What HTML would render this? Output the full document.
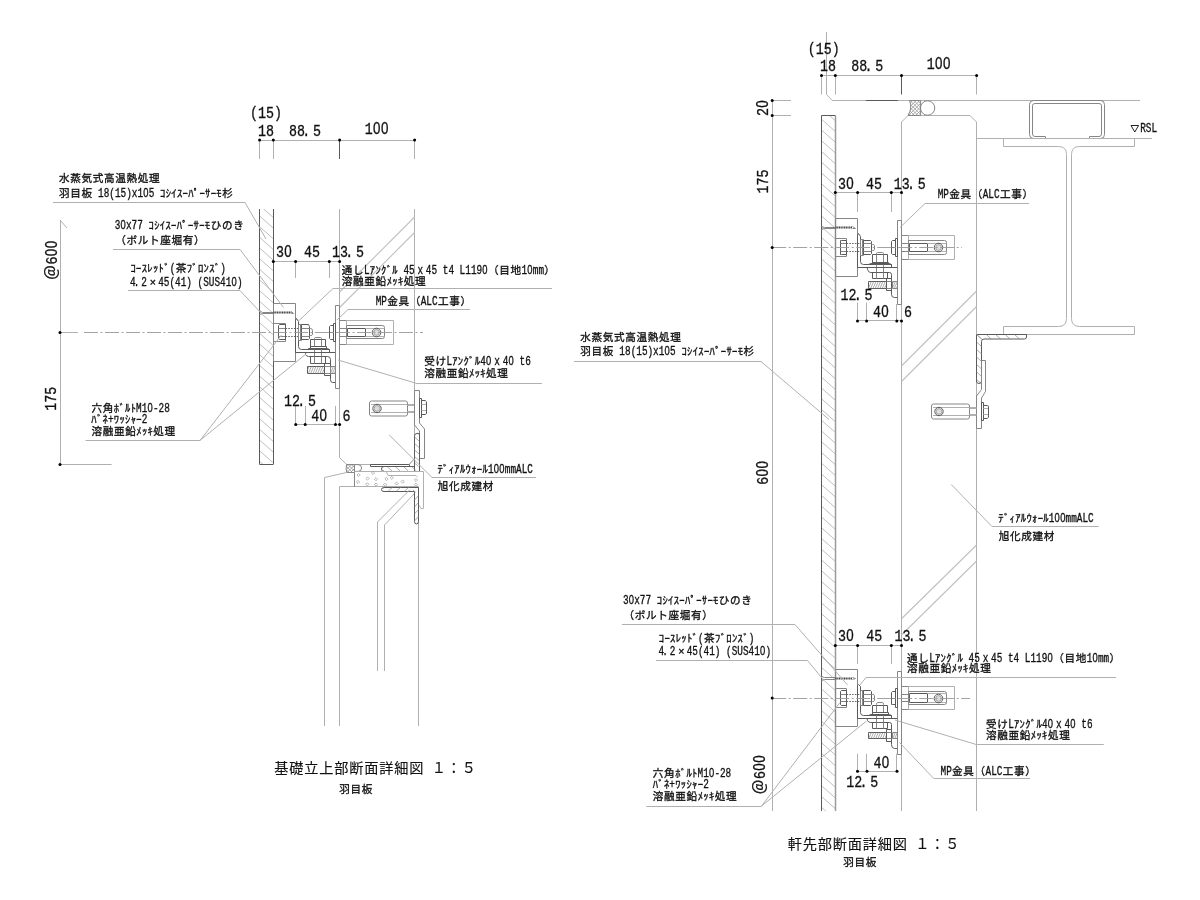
<!DOCTYPE html>
<html lang="ja"><head><meta charset="utf-8"><title>羽目板 断面詳細図</title><style>
html,body{margin:0;padding:0;background:#fff;overflow:hidden}
svg{display:block;filter:grayscale(1);font-family:"Liberation Mono",monospace}
path,circle,rect{fill:none;stroke-width:1;stroke:#9a9a9a}
.l{stroke:#b0b0b0}
.m{stroke:#868686}
.m2{stroke:#9a9a9a;stroke-width:1.5}
.d{stroke:#5a5a5a}
.h{stroke:#b8b8b8;stroke-width:.9}
.h2{stroke:#c0c0c0;stroke-width:1.1}
.h3{stroke:#999;stroke-width:.7}
.hd{stroke:#8a8a8a;stroke-width:.7}
.hf{stroke:#777;stroke-width:.6;fill:#ddd}
.thr{stroke:#444;stroke-width:2.2;stroke-dasharray:1.2 .5}
.ds{stroke:#666;stroke-dasharray:1.6 1.2}
.cl{stroke:#999;stroke-width:.9;stroke-dasharray:14 2.5 2 2.5}
.k{fill:#000;stroke:none}
.tk{stroke:#222;stroke-width:1}
.t text{fill:#111;stroke:#111;stroke-width:.32px}
.ti text{stroke-width:.12px}
.z{font-family:"Liberation Sans",sans-serif}
.j{font-family:"Liberation Sans","Noto Sans CJK JP",sans-serif;font-size:10.6px}
.ja{font-family:"Liberation Sans","Noto Sans CJK JP",sans-serif;font-size:15px}
.jt{font-family:"Liberation Sans","Noto Sans CJK JP",sans-serif;font-size:14.2px}
</style></head>
<body>
<svg width="1200" height="900" viewBox="0 0 1200 900">
<path class="l" d="M259.6 140.5L414.6 140.5"/>
<path class="l" d="M259.5 140L259.5 159"/>
<path class="l" d="M273.5 140L273.5 159"/>
<path class="l" d="M414.5 140L414.5 159"/>
<path class="d" d="M339.5 140L339.5 159"/>
<path class="h" d="M263.75 209L273.3 217.5M259.6 215.97L273.3 228.17M259.6 226.64L273.3 238.84M259.6 237.31L273.3 249.51M259.6 247.98L273.3 260.18M259.6 258.65L273.3 270.85M259.6 269.32L273.3 281.52M259.6 279.99L273.3 292.19M259.6 290.66L273.3 302.86M259.6 301.33L273.3 313.53M259.6 312L273.3 324.2M259.6 322.67L273.3 334.87M259.6 333.34L273.3 345.54M259.6 344.01L273.3 356.21M259.6 354.68L273.3 366.88M259.6 365.35L273.3 377.55M259.6 376.02L273.3 388.22M259.6 386.69L273.3 398.89M259.6 397.36L273.3 409.56M259.6 408.03L273.3 420.23M259.6 418.7L273.3 430.9M259.6 429.37L273.3 441.57M259.6 440.04L273.3 452.24M259.6 450.71L273.3 462.91M259.6 461.38L262.99 464.4"/>
<path class="d" d="M259.5 209L259.5 464.4"/>
<path class="d" d="M273.5 209L273.5 464.4"/>
<path class="d" d="M259.6 464.5L273.3 464.5"/>
<path class="l" d="M339.5 209L339.5 457.5L346.6 464.5L409 464.5L414.6 458.6"/>
<path class="l" d="M414.5 209L414.5 471"/>
<path class="h2" d="M414.6 217L339.6 292"/>
<path class="h2" d="M414.6 232.5L339.6 307.5"/>
<path class="l" d="M60 332.5L78 332.5"/>
<path class="m" d="M273.5 303.5L295.5 303.5L295.5 361.5L273.5 361.5Z"/>
<path class="d" d="M259.5 310.5L259.5 314.5"/>
<path class="m" d="M259.5 310.5L262.5 312.5L273.5 312.5"/>
<path class="m" d="M259.5 314.5L262.5 313.5L273.5 313.5"/>
<path class="thr" d="M273.5 312.5L291.5 312.5"/>
<path class="m" d="M291.5 311.5L293.5 313.5L291.5 313.5"/>
<path class="m" d="M273.5 323.5L285.5 323.5L285.5 341.5L273.5 341.5"/>
<path class="d" d="M285.5 324.5L279.5 324.5L278.5 325.5L278.5 338.5L279.5 339.5L285.5 339.5"/>
<path class="m" d="M278.5 328.5L285.5 328.5"/>
<path class="m" d="M278.5 336.5L285.5 336.5"/>
<path class="d" d="M285.5 324.5L285.5 339.5"/>
<path class="ds" d="M285.5 328.5L298.5 328.5M285.5 336.5L298.5 336.5"/>
<path class="d" d="M295.5 320.5L295.5 352.5L329.5 352.5L329.5 349.5L301.5 349.5Q298.5 349.5 298.5 346.5L298.5 321.5L296.5 318.5Z"/>
<path class="m" d="M298.5 324.5L300.5 324.5L300.5 340.5L298.5 340.5Z"/>
<path class="m" d="M300.5 324.5L301.5 324.5L301.5 340.5L300.5 340.5Z"/>
<path class="d" d="M301.5 324.5L308.5 324.5L309.5 326.5L309.5 338.5L308.5 339.5L301.5 339.5Z"/>
<path class="m" d="M301.5 328.5L309.5 328.5"/>
<path class="m" d="M301.5 336.5L309.5 336.5"/>
<path class="m" d="M309.5 328.5L310.5 328.5Q312.5 328.5 312.5 330.5L312.5 334.5Q312.5 335.5 310.5 335.5L309.5 335.5"/>
<path class="m" d="M314.5 339.5L314.5 338.5Q314.5 337.5 315.5 337.5L320.5 337.5Q321.5 337.5 321.5 338.5L321.5 339.5"/>
<path class="d" d="M310.5 339.5L325.5 339.5L325.5 346.5L310.5 346.5Z"/>
<path class="m" d="M314.5 339.5L314.5 346.5"/>
<path class="m" d="M321.5 339.5L321.5 346.5"/>
<path class="d" d="M310.5 346.5L326.5 346.5L326.5 348.5L310.5 348.5Z"/>
<path class="d" d="M308.5 348.5L327.5 348.5L329.5 349.5L307.5 349.5Z"/>
<path class="m" d="M314.5 349.5L314.5 356.5"/>
<path class="m" d="M321.5 349.5L321.5 356.5"/>
<path class="d" d="M306.5 352.5L335.5 352.5L335.5 382.5L332.5 382.5Q330.5 382.5 330.5 379.5L330.5 359.5Q330.5 356.5 327.5 356.5L308.5 356.5Q306.5 356.5 305.5 354.5Q305.5 352.5 306.5 352.5Z"/>
<path class="d" d="M310.5 356.5L325.5 356.5L325.5 363.5L310.5 363.5Z"/>
<path class="m" d="M314.5 356.5L314.5 363.5"/>
<path class="m" d="M321.5 356.5L321.5 363.5"/>
<path class="d" d="M307.5 366.5L324.5 366.5L324.5 373.5L307.5 373.5Z"/>
<path class="hd" d="M307.5 370.03L309.01 366.5M308.33 373.5L311.33 366.5M310.64 373.5L313.64 366.5M312.96 373.5L315.96 366.5M315.27 373.5L318.27 366.5M317.59 373.5L320.59 366.5M319.9 373.5L322.9 366.5M322.21 373.5L324.5 368.17"/>
<path class="d" d="M324.5 363.5L330.5 363.5L330.5 375.5L324.5 375.5Z"/>
<path class="m" d="M324.5 366.5L330.5 366.5"/>
<path class="m" d="M324.5 373.5L330.5 373.5"/>
<path class="m" d="M330.5 366.5L335.5 366.5L335.5 373.5L330.5 373.5Z"/>
<path class="hd" d="M330.5 368.63L331.41 366.5M330.5 373.23L333.39 366.5M332.36 373.5L335.36 366.5M334.33 373.5L335.5 370.77"/>
<path class="m" d="M335.5 305.5L339.5 305.5L339.5 388.5L335.5 388.5Z"/>
<path class="d" d="M333.5 323.5L335.5 323.5L335.5 341.5L333.5 341.5Z"/>
<path class="d" d="M333.5 325.5L330.5 325.5L329.5 326.5L329.5 338.5L330.5 339.5L333.5 339.5"/>
<path class="m" d="M329.5 332.5L333.5 332.5"/>
<path class="m" d="M339.5 320.5L346.5 320.5L346.5 344.5L339.5 344.5Z"/>
<path class="l" d="M346.5 320.5L393.5 320.5L393.5 344.5L346.5 344.5Z"/>
<path class="m" d="M346.5 325.5L382.5 325.5Q384.5 325.5 384.5 327.5L384.5 336.5Q384.5 338.5 382.5 338.5L346.5 338.5Z"/>
<path class="d" d="M347.5 328.5L365.5 328.5L365.5 336.5L347.5 336.5Z"/>
<path class="m" d="M339.5 328.5L347.5 328.5"/>
<path class="m" d="M339.5 336.5L347.5 336.5"/>
<path class="l" d="M365.5 328.5L384.5 328.5"/>
<path class="l" d="M365.5 336.5L384.5 336.5"/>
<circle class="d" cx="376.5" cy="332.5" r="4.3"/>
<circle class="hf" cx="376.5" cy="332.5" r="2.9"/>
<path class="cl" d="M84 332.5L423 332.5"/>
<rect class="m" x="369.5" y="401" width="38" height="15" rx="2"/>
<path class="l" d="M371 404.5L407 404.5"/>
<path class="l" d="M371 412.5L407 412.5"/>
<circle class="d" cx="377" cy="408.5" r="4.2"/>
<circle class="hf" cx="377" cy="408.5" r="2.9"/>
<path class="l" d="M407.5 404.5L414.5 404.5"/>
<path class="l" d="M407.5 405.5L414.5 405.5"/>
<path class="l" d="M407.5 411.5L414.5 411.5"/>
<path class="l" d="M407.5 412.5L414.5 412.5"/>
<path class="m" d="M414.5 390.5L419.5 390.5L419.5 423L424.5 429L424.5 458.5L419.5 458.5L419.5 431L414.5 425Z"/>
<path class="d" d="M419.5 398.5L421.5 398.5L421.5 417.5L419.5 417.5Z"/>
<path class="d" d="M421.6 400.5L425.2 400.5L426.5 401.8L426.5 413.7L425.2 414.5L421.6 414.5"/>
<path class="l" d="M421.6 404.5L426 404.5"/>
<path class="l" d="M421.6 410.5L426 410.5"/>
<path class="d" d="M414.5 471.5L414.5 436Q414.5 433.5 417 433.5L419.5 433.5L419.5 471.5L384 471.5Q381.5 471.5 381.5 469Q381.5 466.5 384 466.5L414.5 466.5"/>
<path class="hd" d="M417.38 433L419.6 435M414.6 437L419.6 441.5M414.6 443.5L419.6 448M414.6 450L419.6 454.5M414.6 456.5L419.6 461M414.6 463L418.38 466.4"/>
<path class="hd" d="M411.45 466.4L416.45 471M403.3 466.4L408.3 471M395.14 466.4L400.14 471M386.99 466.4L391.99 471M383 470.23L383.84 471"/>
<path class="d" d="M370.5 464.5L409.5 464.5L409.5 466.5L370.5 466.5Z"/>
<path class="l" d="M409.3 464.4L414.6 458.6"/>
<path class="m" d="M346.6 464.5L346.2 468.4L346.6 472.5L354.5 472.5L354.5 464.5Z"/>
<path class="hd" d="M351.2 464.4L354.6 467.8M347.8 464.4L354.6 471.2M346.4 466.4L352.5 472.5M346.4 469.8L349.1 472.5"/>
<path class="hd" d="M346.4 466.4L348.4 464.4M346.4 469.8L351.8 464.4M347.1 472.5L354.6 465M350.5 472.5L354.6 468.4M353.9 472.5L354.6 471.8"/>
<path class="m" d="M354.6 464.6L358 464.6Q361.6 464.6 361.6 468Q361.6 471.4 358 471.4L354.6 471.4"/>
<path class="l" d="M346.6 472.5L324.5 477.5L324.5 726"/>
<path class="l" d="M339.5 726L339.5 486.5L418.5 486.5L418.5 726"/>
<path class="m" d="M354.5 472.5L354.5 487"/>
<path class="l" d="M354.6 471.5L423.5 471.5L423.5 508.5L421.2 508.5L419.3 505.5"/>
<path class="l" d="M386.5 471.8L388 475.5L416 475.5L417.5 477"/>
<path class="h3" d="M357 475L358.6 473.4L360.2 475L358.6 476.6Z"/>
<path class="h3" d="M356.4 482L358 480.4L359.6 482L358 483.6Z"/>
<path class="h3" d="M365.9 478.5L367.5 476.9L369.1 478.5L367.5 480.1Z"/>
<path class="h3" d="M365.7 484.3L367.3 482.7L368.9 484.3L367.3 485.9Z"/>
<path class="h3" d="M374.4 479.2L376 477.6L377.6 479.2L376 480.8Z"/>
<path class="h3" d="M374.4 484.6L376 483L377.6 484.6L376 486.2Z"/>
<path class="h3" d="M371.4 473L373 471.4L374.6 473L373 474.6Z"/>
<path class="h3" d="M383.4 484.8L385 483.2L386.6 484.8L385 486.4Z"/>
<path class="h3" d="M384.9 479L386.5 477.4L388.1 479L386.5 480.6Z"/>
<path class="h3" d="M390.2 477.8L391.8 476.2L393.4 477.8L391.8 479.4Z"/>
<path class="h3" d="M395 483.5L396.6 481.9L398.2 483.5L396.6 485.1Z"/>
<path class="h3" d="M401.1 481.6L402.7 480L404.3 481.6L402.7 483.2Z"/>
<path class="h3" d="M414.4 480L416 478.4L417.6 480L416 481.6Z"/>
<path class="h3" d="M414.4 484.7L416 483.1L417.6 484.7L416 486.3Z"/>
<path class="d" d="M381.5 489.5Q381.5 491.5 384 491.5L414.5 491.5L414.5 521.5Q414.5 524 416.5 524Q418.5 524 418.5 521.5L418.5 487.5L384 487.5Q381.5 487.5 381.5 489.5Z"/>
<path class="hd" d="M383 488.48L384.61 487M387.87 491.5L392.76 487M396.02 491.5L400.91 487M404.17 491.5L409.07 487M412.33 491.5L414 489.96"/>
<path class="hd" d="M414 493.5L415.8 491.5M414 500.5L418.5 495.5M414 507.5L418.5 502.5M414 514.5L418.5 509.5M414 521.5L418.5 516.5"/>
<path class="l" d="M410 489.5L377.5 522L377.5 671"/>
<path class="l" d="M414 494L384.5 525L384.5 671"/>
<path class="l" d="M273.3 261.5L339.6 261.5"/>
<path class="l" d="M295.5 261.5L295.5 278"/>
<path class="l" d="M329.5 261.5L329.5 278"/>
<path class="l" d="M295.75 424.5L339.6 424.5"/>
<path class="l" d="M295.5 406L295.5 424.5"/>
<path class="l" d="M305.5 406L305.5 424.5"/>
<path class="l" d="M335.5 406L335.5 424.5"/>
<path class="l" d="M60.5 220L60.5 464.4"/>
<path class="l" d="M60 220L67 228"/>
<path class="l" d="M60 464.5L111.6 464.5"/>
<path class="l" d="M53 202.5L245 202.5L266 239"/>
<path class="l" d="M113 249.5L240 249.5L283.5 307.5"/>
<path class="l" d="M128 290.5L240 290.5L262 314"/>
<path class="l" d="M552 288.5L333 288.5L298 321.5"/>
<path class="l" d="M470 309.5L348 309.5L337 320"/>
<path class="l" d="M542 383.5L417 383.5L338 360"/>
<path class="l" d="M85.6 440.5L200 440.5L281.5 335"/>
<path class="l" d="M200 440.4L306 354"/>
<path class="l" d="M536 477.5L432 477.5L389.3 435"/>
<g class="t" transform="translate(249.9,117.5)" aria-label="(15)"><text transform="scale(0.7862,1)" font-size="16.96"><tspan x="0">(</tspan><tspan x="10.18">1</tspan><tspan x="20.35">5</tspan><tspan x="30.53">)</tspan></text></g>
<g class="t" transform="translate(258.1,136)" aria-label="18"><text transform="scale(0.7862,1)" font-size="16.96"><tspan x="0">1</tspan><tspan x="10.18">8</tspan></text></g>
<g class="t" transform="translate(289.1,136)" aria-label="88.5"><text transform="scale(0.7862,1)" font-size="16.96"><tspan x="0">8</tspan><tspan x="10.18">8</tspan><tspan x="16.89">.</tspan><tspan x="30.53">5</tspan></text></g>
<g class="t" transform="translate(364.7,133.8)" aria-label="100"><text transform="scale(0.7862,1)" font-size="16.96"><tspan x="0">1</tspan><tspan x="10.54" class="z">0</tspan><tspan x="20.72" class="z">0</tspan></text></g>
<g class="t" transform="translate(58.7,182.1)" aria-label="水蒸気式高温熱処理"><text class="j" x="0.34 11.59 22.84 34.09 45.34 56.59 67.84 79.09 90.34">水蒸気式高温熱処理</text></g>
<g class="t" transform="translate(58.7,197.1)" aria-label="羽目板 18(15)x105 ｺｼｲｽｰﾊﾟｰｻｰﾓ杉"><text class="j" x="0.34 11.59 22.84">羽目板</text><text transform="scale(0.7862,1)" font-size="11.93"><tspan x="50.09">1</tspan><tspan x="57.24">8</tspan><tspan x="64.4">(</tspan><tspan x="71.55">1</tspan><tspan x="78.71">5</tspan><tspan x="85.86">)</tspan><tspan x="93.02">x</tspan><tspan x="100.17">1</tspan><tspan x="107.58" class="z">0</tspan><tspan x="114.48">5</tspan></text><text class="j" x="101.42 107.04 112.67 118.29 123.92 129.54 135.17 140.79 146.42 152.04 157.67 163.46">ｺｼｲｽｰﾊﾟｰｻｰﾓ杉</text></g>
<g class="t" transform="translate(114.7,229.2)" aria-label="30x77 ｺｼｲｽｰﾊﾟｰｻｰﾓひのき"><text transform="scale(0.7862,1)" font-size="11.93"><tspan x="0">3</tspan><tspan x="7.41" class="z">0</tspan><tspan x="14.31">x</tspan><tspan x="21.47">7</tspan><tspan x="28.62">7</tspan></text><text class="j" x="33.92 39.54 45.17 50.79 56.42 62.04 67.67 73.29 78.92 84.54 90.17 95.96 107.21 118.46">ｺｼｲｽｰﾊﾟｰｻｰﾓひのき</text></g>
<g class="t" transform="translate(115,244.2)" aria-label="（ボルト座堀有）"><text class="j" x="0.34 11.59 22.84 34.09 45.34 56.59 67.84 79.09">（ボルト座堀有）</text></g>
<g class="t" transform="translate(130.3,272.2)" aria-label="ｺｰｽﾚｯﾄﾞ(茶ﾌﾞﾛﾝｽﾞ)"><text class="j" x="0.17 5.79 11.42 17.04 22.67 28.29 33.92">ｺｰｽﾚｯﾄﾞ</text><text transform="scale(0.7862,1)" font-size="11.93"><tspan x="50.09">(</tspan></text><text class="j" x="45.34 56.42 62.04 67.67 73.29 78.92 84.54">茶ﾌﾞﾛﾝｽﾞ</text><text transform="scale(0.7862,1)" font-size="11.93"><tspan x="114.48">)</tspan></text></g>
<g class="t" transform="translate(130.1,285.6)" aria-label="4.2×45(41) (SUS410)"><text transform="scale(0.7862,1)" font-size="11.93"><tspan x="0">4</tspan><tspan x="4.72">.</tspan><tspan x="14.31">2</tspan></text><text class="j" x="22.84" text-anchor="middle">×</text><text transform="scale(0.7862,1)" font-size="11.93"><tspan x="35.78">4</tspan><tspan x="42.93">5</tspan><tspan x="50.09">(</tspan><tspan x="57.24">4</tspan><tspan x="64.4">1</tspan><tspan x="71.55">)</tspan><tspan x="85.86">(</tspan><tspan x="93.02">S</tspan><tspan x="100.17">U</tspan><tspan x="107.33">S</tspan><tspan x="114.48">4</tspan><tspan x="121.64">1</tspan><tspan x="129.05" class="z">0</tspan><tspan x="135.95">)</tspan></text></g>
<g class="t" transform="translate(276,256.8)" aria-label="30"><text transform="scale(0.7862,1)" font-size="16.96"><tspan x="0">3</tspan><tspan x="10.54" class="z">0</tspan></text></g>
<g class="t" transform="translate(303.9,256.8)" aria-label="45"><text transform="scale(0.7862,1)" font-size="16.96"><tspan x="0">4</tspan><tspan x="10.18">5</tspan></text></g>
<g class="t" transform="translate(331.9,256.8)" aria-label="13.5"><text transform="scale(0.7862,1)" font-size="16.96"><tspan x="0">1</tspan><tspan x="10.18">3</tspan><tspan x="16.89">.</tspan><tspan x="30.53">5</tspan></text></g>
<g class="t" transform="translate(341.5,273.7)" aria-label="通しLｱﾝｸﾞﾙ 45ｘ45 t4 L1190（目地10mm）"><text class="j" x="0.34 11.59">通し</text><text transform="scale(0.7862,1)" font-size="11.93"><tspan x="28.62">L</tspan></text><text class="j" x="28.29 33.92 39.54 45.17 50.79">ｱﾝｸﾞﾙ</text><text transform="scale(0.7862,1)" font-size="11.93"><tspan x="78.71">4</tspan><tspan x="85.86">5</tspan><tspan x="96.59">x</tspan><tspan x="107.33">4</tspan><tspan x="114.48">5</tspan><tspan x="128.79">t</tspan><tspan x="135.95">4</tspan><tspan x="150.26">L</tspan><tspan x="157.41">1</tspan><tspan x="164.57">1</tspan><tspan x="171.72">9</tspan><tspan x="179.13" class="z">0</tspan></text><text class="j" x="146.59 157.84 169.09">（目地</text><text transform="scale(0.7862,1)" font-size="11.93"><tspan x="228.96">1</tspan><tspan x="236.37" class="z">0</tspan><tspan x="243.27">m</tspan><tspan x="250.43">m</tspan></text><text class="j" x="202.84">）</text></g>
<g class="t" transform="translate(341.5,285)" aria-label="溶融亜鉛ﾒｯｷ処理"><text class="j" x="0.34 11.59 22.84 34.09 45.17 50.79 56.42 62.21 73.46">溶融亜鉛ﾒｯｷ処理</text></g>
<g class="t" transform="translate(375.7,305.2)" aria-label="MP金具（ALC工事）"><text transform="scale(0.7862,1)" font-size="11.93"><tspan x="0">M</tspan><tspan x="7.16">P</tspan></text><text class="j" x="11.59 22.84 34.09">金具（</text><text transform="scale(0.7862,1)" font-size="11.93"><tspan x="57.24">A</tspan><tspan x="64.4">L</tspan><tspan x="71.55">C</tspan></text><text class="j" x="62.21 73.46 84.71">工事）</text></g>
<g class="t" transform="translate(423.9,365.3)" aria-label="受けLｱﾝｸﾞﾙ40ｘ40 t6"><text class="j" x="0.34 11.59">受け</text><text transform="scale(0.7862,1)" font-size="11.93"><tspan x="28.62">L</tspan></text><text class="j" x="28.29 33.92 39.54 45.17 50.79">ｱﾝｸﾞﾙ</text><text transform="scale(0.7862,1)" font-size="11.93"><tspan x="71.55">4</tspan><tspan x="78.96" class="z">0</tspan><tspan x="89.44">x</tspan><tspan x="100.17">4</tspan><tspan x="107.58" class="z">0</tspan><tspan x="121.64">t</tspan><tspan x="128.79">6</tspan></text></g>
<g class="t" transform="translate(423.9,376.8)" aria-label="溶融亜鉛ﾒｯｷ処理"><text class="j" x="0.34 11.59 22.84 34.09 45.17 50.79 56.42 62.21 73.46">溶融亜鉛ﾒｯｷ処理</text></g>
<g class="t" transform="translate(284.1,405.7)" aria-label="12.5"><text transform="scale(0.7862,1)" font-size="16.96"><tspan x="0">1</tspan><tspan x="10.18">2</tspan><tspan x="16.89">.</tspan><tspan x="30.53">5</tspan></text></g>
<g class="t" transform="translate(311.3,420.9)" aria-label="40"><text transform="scale(0.7862,1)" font-size="16.96"><tspan x="0">4</tspan><tspan x="10.54" class="z">0</tspan></text></g>
<g class="t" transform="translate(342.5,420.9)" aria-label="6"><text transform="scale(0.7862,1)" font-size="16.96"><tspan x="0">6</tspan></text></g>
<g class="t" transform="translate(91.1,411.6)" aria-label="六角ﾎﾞﾙﾄM10-28"><text class="j" x="0.34 11.59 22.67 28.29 33.92 39.54">六角ﾎﾞﾙﾄ</text><text transform="scale(0.7862,1)" font-size="11.93"><tspan x="57.24">M</tspan><tspan x="64.4">1</tspan><tspan x="71.81" class="z">0</tspan><tspan x="78.71">-</tspan><tspan x="85.86">2</tspan><tspan x="93.02">8</tspan></text></g>
<g class="t" transform="translate(91.1,423.4)" aria-label="ﾊﾞﾈ+ﾜｯｼｬｰ2"><text class="j" x="0.17 5.79 11.42">ﾊﾞﾈ</text><text transform="scale(0.7862,1)" font-size="11.93"><tspan x="21.47">+</tspan></text><text class="j" x="22.67 28.29 33.92 39.54 45.17">ﾜｯｼｬｰ</text><text transform="scale(0.7862,1)" font-size="11.93"><tspan x="64.4">2</tspan></text></g>
<g class="t" transform="translate(91.1,434.8)" aria-label="溶融亜鉛ﾒｯｷ処理"><text class="j" x="0.34 11.59 22.84 34.09 45.17 50.79 56.42 62.21 73.46">溶融亜鉛ﾒｯｷ処理</text></g>
<g class="t" transform="translate(437.3,473)" aria-label="ﾃﾞｨｱﾙｳｫｰﾙ100mmALC"><text class="j" x="0.17 5.79 11.42 17.04 22.67 28.29 33.92 39.54 45.17">ﾃﾞｨｱﾙｳｫｰﾙ</text><text transform="scale(0.7862,1)" font-size="11.93"><tspan x="64.4">1</tspan><tspan x="71.81" class="z">0</tspan><tspan x="78.96" class="z">0</tspan><tspan x="85.86">m</tspan><tspan x="93.02">m</tspan><tspan x="100.17">A</tspan><tspan x="107.33">L</tspan><tspan x="114.48">C</tspan></text></g>
<g class="t" transform="translate(437.5,490.2)" aria-label="旭化成建材"><text class="j" x="0.34 11.59 22.84 34.09 45.34">旭化成建材</text></g>
<g class="t" transform="translate(57,280.5) rotate(-90)" aria-label="＠600"><text class="ja" x="0.48">＠</text><text transform="scale(0.7862,1)" font-size="16.96"><tspan x="20.35">6</tspan><tspan x="30.89" class="z">0</tspan><tspan x="41.07" class="z">0</tspan></text></g>
<g class="t" transform="translate(56.2,410.8) rotate(-90)" aria-label="175"><text transform="scale(0.7862,1)" font-size="16.96"><tspan x="0">1</tspan><tspan x="10.18">7</tspan><tspan x="20.35">5</tspan></text></g>
<g class="t ti" transform="translate(273.9,773.3)" aria-label="基礎立上部断面詳細図 １：５"><text class="jt" x="0.45 15.45 30.45 45.45 60.45 75.45 90.45 105.45 120.45 135.45 157.95 172.95 187.95">基礎立上部断面詳細図１：５</text></g>
<g class="t" transform="translate(339,793)" aria-label="羽目板"><text class="j" x="0.34 11.59 22.84">羽目板</text></g>
<path class="l" d="M826.5 32L826.5 94.5L832.2 100.5L1140 100.5"/>
<path class="d" d="M866 100.5L898 100.5"/>
<path class="l" d="M821.5 75.5L976.6 75.5"/>
<path class="l" d="M821.5 75.5L821.5 94.5"/>
<path class="l" d="M835.5 75.5L835.5 94.5"/>
<path class="l" d="M976.5 75.5L976.5 94.5"/>
<path class="d" d="M901.5 75.5L901.5 94.5"/>
<path class="h" d="M829.42 115.5L835.3 120.7M821.5 119.25L835.3 131.45M821.5 130L835.3 142.2M821.5 140.75L835.3 152.95M821.5 151.5L835.3 163.7M821.5 162.25L835.3 174.45M821.5 173L835.3 185.2M821.5 183.75L835.3 195.95M821.5 194.5L835.3 206.7M821.5 205.25L835.3 217.45M821.5 216L835.3 228.2M821.5 226.75L835.3 238.95M821.5 237.5L835.3 249.7M821.5 248.25L835.3 260.45M821.5 259L835.3 271.2M821.5 269.75L835.3 281.95M821.5 280.5L835.3 292.7M821.5 291.25L835.3 303.45M821.5 302L835.3 314.2M821.5 312.75L835.3 324.95M821.5 323.5L835.3 335.7M821.5 334.25L835.3 346.45M821.5 345L835.3 357.2M821.5 355.75L835.3 367.95M821.5 366.5L835.3 378.7M821.5 377.25L835.3 389.45M821.5 388L835.3 400.2M821.5 398.75L835.3 410.95M821.5 409.5L835.3 421.7M821.5 420.25L835.3 432.45M821.5 431L835.3 443.2M821.5 441.75L835.3 453.95M821.5 452.5L835.3 464.7M821.5 463.25L835.3 475.45M821.5 474L835.3 486.2M821.5 484.75L835.3 496.95M821.5 495.5L835.3 507.7M821.5 506.25L835.3 518.45M821.5 517L835.3 529.2M821.5 527.75L835.3 539.95M821.5 538.5L835.3 550.7M821.5 549.25L835.3 561.45M821.5 560L835.3 572.2M821.5 570.75L835.3 582.95M821.5 581.5L835.3 593.7M821.5 592.25L835.3 604.45M821.5 603L835.3 615.2M821.5 613.75L835.3 625.95M821.5 624.5L835.3 636.7M821.5 635.25L835.3 647.45M821.5 646L835.3 658.2M821.5 656.75L835.3 668.95M821.5 667.5L835.3 679.7M821.5 678.25L835.3 690.45M821.5 689L835.3 701.2M821.5 699.75L835.3 711.95M821.5 710.5L835.3 722.7M821.5 721.25L835.3 733.45M821.5 732L835.3 744.2M821.5 742.75L835.3 754.95M821.5 753.5L835.3 765.7M821.5 764.25L835.3 776.45M821.5 775L835.3 787.2M821.5 785.75L835.3 797.95M821.5 796.5L835.3 808.7M821.5 807.25L825.74 811"/>
<path class="d" d="M821.5 115.5L821.5 811"/>
<path class="m2" d="M835.5 115.5L835.5 811"/>
<path class="d" d="M821.5 115.5L835.3 115.5"/>
<path class="l" d="M901.5 811L901.5 122L908 115.5L970 115.5L976.5 122L976.5 811"/>
<path class="h2" d="M901.5 366L976.6 291"/>
<path class="h2" d="M901.5 381.5L976.6 306.5"/>
<path class="h2" d="M901.5 618.75L976.6 545"/>
<path class="h2" d="M901.5 635L976.6 561"/>
<path class="m" d="M909.5 100.5Q912.5 108 908 115.5L920.6 115.5L920.6 100.5Z"/>
<clipPath id="sc"><path d="M909.5 100.5Q912.5 108 908 115.5L920.6 115.5L920.6 100.5Z"/></clipPath>
<g clip-path="url(#sc)">
<path class="hd" d="M917.4 100.5L921 104.1M913.8 100.5L921 107.7M910.2 100.5L921 111.3M906.6 100.5L921 114.9M906 103.5L918 115.5M906 107.1L914.4 115.5M906 110.7L910.8 115.5M906 114.3L907.2 115.5"/>
<path class="hd" d="M906 103.5L909 100.5M906 107.1L912.6 100.5M906 110.7L916.2 100.5M906 114.3L919.8 100.5M908.4 115.5L921 102.9M912 115.5L921 106.5M915.6 115.5L921 110.1M919.2 115.5L921 113.7"/>
</g>
<circle class="m" cx="927.6" cy="108" r="7.2"/>
<path class="l" d="M976.6 138.5L1152 138.5"/>
<path class="m" d="M1045.5 136.5L1035 136.5Q1032.5 136.5 1032.5 134L1032.5 105.5Q1032.5 103.5 1035 103.5L1099 103.5Q1101.5 103.5 1101.5 105.5L1101.5 134Q1101.5 136.5 1099 136.5L1089.5 136.5L1089.5 138.5L1100.5 138.5Q1104.5 138.5 1104.5 134.5L1104.5 104.5Q1104.5 100.5 1100.5 100.5L1033.5 100.5Q1029.5 100.5 1029.5 104.5L1029.5 134.5Q1029.5 138.5 1033.5 138.5L1045.5 138.5Z"/>
<path class="l" d="M1003.5 138.5L1134.5 138.5L1134.5 146.5L1079.5 146.5Q1071.5 146.5 1071.5 154.5L1071.5 318.5Q1071.5 326.5 1079.5 326.5L1134.5 326.5L1134.5 334.5L1003.5 334.5L1003.5 326.5L1058.5 326.5Q1066.5 326.5 1066.5 318.5L1066.5 154.5Q1066.5 146.5 1058.5 146.5L1003.5 146.5Z"/>
<path class="d" d="M976.5 334.5L1026.5 334.5L1026.5 337Q1026.5 339 1024.5 339L984 339Q981.5 339 981.5 341.5L981.5 381Q981.5 383.5 979 383.5Q976.5 383.5 976.5 381Z"/>
<path class="hd" d="M1014.57 334.6L1019.57 339M1005.14 334.6L1010.14 339M995.7 334.6L1000.7 339M986.27 334.6L991.27 339M978 335.62L981.84 339"/>
<path class="hd" d="M976.6 342L981.6 346.5M976.6 349.5L981.6 354M976.6 357L981.6 361.5M976.6 364.5L981.6 369M976.6 372L981.6 376.5M976.6 379.5L980.49 383"/>
<path class="l" d="M976.5 334.5L981.5 339"/>
<path class="m" d="M981.5 360.5L985.5 360.5L985.5 391.5L981.5 398L981.5 428.5L976.5 428.5L976.5 396L981.5 389.5Z"/>
<path class="d" d="M981.5 402.5L983.5 402.5L983.5 420.5L981.5 420.5Z"/>
<path class="d" d="M983.4 405.5L987.2 405.5L988.5 406.2L988.5 417.4L987.2 418.5L983.4 418.5"/>
<path class="l" d="M983.4 408.5L988 408.5"/>
<path class="l" d="M983.4 414.5L988 414.5"/>
<rect class="m" x="931.5" y="404" width="38" height="15" rx="2"/>
<path class="l" d="M933 407.5L969 407.5"/>
<path class="l" d="M933 415.5L969 415.5"/>
<circle class="d" cx="939" cy="411.5" r="4.2"/>
<circle class="hf" cx="939" cy="411.5" r="2.9"/>
<path class="l" d="M969.5 407.5L976.5 407.5"/>
<path class="l" d="M969.5 408.5L976.5 408.5"/>
<path class="l" d="M969.5 414.5L976.5 414.5"/>
<path class="l" d="M969.5 415.5L976.5 415.5"/>
<path class="m" d="M835.5 218.5L857.5 218.5L857.5 276.5L835.5 276.5Z"/>
<path class="d" d="M821.5 226.5L821.5 229.5"/>
<path class="m" d="M821.5 226.5L824.5 227.5L835.5 227.5"/>
<path class="m" d="M821.5 229.5L824.5 228.5L835.5 228.5"/>
<path class="thr" d="M835.5 227.5L852.5 227.5"/>
<path class="m" d="M852.5 226.5L855.5 228.5L852.5 228.5"/>
<path class="m" d="M835.5 238.5L846.5 238.5L846.5 256.5L835.5 256.5"/>
<path class="d" d="M846.5 240.5L841.5 240.5L840.5 240.5L840.5 254.5L841.5 254.5L846.5 254.5"/>
<path class="m" d="M840.5 243.5L846.5 243.5"/>
<path class="m" d="M840.5 251.5L846.5 251.5"/>
<path class="d" d="M846.5 240.5L846.5 254.5"/>
<path class="ds" d="M846.5 243.5L860.5 243.5M846.5 251.5L860.5 251.5"/>
<path class="d" d="M857.5 235.5L857.5 267.5L891.5 267.5L891.5 264.5L863.5 264.5Q860.5 264.5 860.5 261.5L860.5 236.5L858.5 233.5Z"/>
<path class="m" d="M860.5 239.5L862.5 239.5L862.5 255.5L860.5 255.5Z"/>
<path class="m" d="M862.5 239.5L863.5 239.5L863.5 255.5L862.5 255.5Z"/>
<path class="d" d="M863.5 240.5L870.5 240.5L871.5 241.5L871.5 253.5L870.5 254.5L863.5 254.5Z"/>
<path class="m" d="M863.5 243.5L871.5 243.5"/>
<path class="m" d="M863.5 251.5L871.5 251.5"/>
<path class="m" d="M871.5 244.5L872.5 244.5Q874.5 244.5 874.5 245.5L874.5 249.5Q874.5 250.5 872.5 250.5L871.5 250.5"/>
<path class="m" d="M876.5 254.5L876.5 253.5Q876.5 252.5 877.5 252.5L882.5 252.5Q883.5 252.5 883.5 253.5L883.5 254.5"/>
<path class="d" d="M872.5 254.5L887.5 254.5L887.5 262.5L872.5 262.5Z"/>
<path class="m" d="M876.5 254.5L876.5 262.5"/>
<path class="m" d="M883.5 254.5L883.5 262.5"/>
<path class="d" d="M872.5 262.5L888.5 262.5L888.5 263.5L872.5 263.5Z"/>
<path class="d" d="M870.5 263.5L889.5 263.5L891.5 264.5L868.5 264.5Z"/>
<path class="m" d="M876.5 264.5L876.5 272.5"/>
<path class="m" d="M883.5 264.5L883.5 272.5"/>
<path class="d" d="M868.5 267.5L897.5 267.5L897.5 297.5L894.5 297.5Q891.5 297.5 891.5 294.5L891.5 274.5Q891.5 272.5 889.5 272.5L870.5 272.5Q868.5 272.5 867.5 269.5Q866.5 267.5 868.5 267.5Z"/>
<path class="d" d="M872.5 272.5L887.5 272.5L887.5 278.5L872.5 278.5Z"/>
<path class="m" d="M876.5 272.5L876.5 278.5"/>
<path class="m" d="M883.5 272.5L883.5 278.5"/>
<path class="d" d="M868.5 281.5L886.5 281.5L886.5 288.5L868.5 288.5Z"/>
<path class="hd" d="M868.5 282.7L869.01 281.5M868.5 288.1L871.33 281.5M870.64 288.5L873.64 281.5M872.96 288.5L875.96 281.5M875.27 288.5L878.27 281.5M877.59 288.5L880.59 281.5M879.9 288.5L882.9 281.5M882.21 288.5L885.21 281.5M884.53 288.5L886.5 283.9"/>
<path class="d" d="M886.5 278.5L891.5 278.5L891.5 290.5L886.5 290.5Z"/>
<path class="m" d="M886.5 281.5L891.5 281.5"/>
<path class="m" d="M886.5 288.5L891.5 288.5"/>
<path class="m" d="M892.5 281.5L897.5 281.5L897.5 288.5L892.5 288.5Z"/>
<path class="hd" d="M892.5 283.63L893.41 281.5M892.5 288.23L895.39 281.5M894.36 288.5L897.36 281.5M896.33 288.5L897.5 285.77"/>
<path class="m" d="M897.5 220.5L901.5 220.5L901.5 304.5L897.5 304.5Z"/>
<path class="d" d="M895.5 238.5L897.5 238.5L897.5 256.5L895.5 256.5Z"/>
<path class="d" d="M895.5 240.5L892.5 240.5L891.5 241.5L891.5 253.5L892.5 254.5L895.5 254.5"/>
<path class="m" d="M891.5 247.5L895.5 247.5"/>
<path class="m" d="M901.5 235.5L908.5 235.5L908.5 259.5L901.5 259.5Z"/>
<path class="l" d="M908.5 235.5L954.5 235.5L954.5 259.5L908.5 259.5Z"/>
<path class="m" d="M908.5 240.5L944.5 240.5Q946.5 240.5 946.5 242.5L946.5 252.5Q946.5 254.5 944.5 254.5L908.5 254.5Z"/>
<path class="d" d="M909.5 243.5L927.5 243.5L927.5 251.5L909.5 251.5Z"/>
<path class="m" d="M901.5 243.5L909.5 243.5"/>
<path class="m" d="M901.5 251.5L909.5 251.5"/>
<path class="l" d="M927.5 243.5L946.5 243.5"/>
<path class="l" d="M927.5 251.5L946.5 251.5"/>
<circle class="d" cx="938.5" cy="247.5" r="4.3"/>
<circle class="hf" cx="938.5" cy="247.5" r="2.9"/>
<path class="cl" d="M772.2 247.5L962 247.5"/>
<path class="m" d="M835.5 669.5L857.5 669.5L857.5 726.5L835.5 726.5Z"/>
<path class="d" d="M821.5 676.5L821.5 680.5"/>
<path class="m" d="M821.5 676.5L824.5 677.5L835.5 677.5"/>
<path class="m" d="M821.5 680.5L824.5 679.5L835.5 679.5"/>
<path class="thr" d="M835.5 678.5L852.5 678.5"/>
<path class="m" d="M852.5 677.5L855.5 678.5L852.5 679.5"/>
<path class="m" d="M835.5 688.5L846.5 688.5L846.5 707.5L835.5 707.5"/>
<path class="d" d="M846.5 690.5L841.5 690.5L840.5 691.5L840.5 704.5L841.5 705.5L846.5 705.5"/>
<path class="m" d="M840.5 694.5L846.5 694.5"/>
<path class="m" d="M840.5 701.5L846.5 701.5"/>
<path class="d" d="M846.5 690.5L846.5 705.5"/>
<path class="ds" d="M846.5 694.5L860.5 694.5M846.5 701.5L860.5 701.5"/>
<path class="d" d="M857.5 685.5L857.5 718.5L891.5 718.5L891.5 715.5L863.5 715.5Q860.5 715.5 860.5 712.5L860.5 686.5L858.5 684.5Z"/>
<path class="m" d="M860.5 690.5L862.5 690.5L862.5 705.5L860.5 705.5Z"/>
<path class="m" d="M862.5 690.5L863.5 690.5L863.5 705.5L862.5 705.5Z"/>
<path class="d" d="M863.5 690.5L870.5 690.5L871.5 691.5L871.5 704.5L870.5 705.5L863.5 705.5Z"/>
<path class="m" d="M863.5 694.5L871.5 694.5"/>
<path class="m" d="M863.5 701.5L871.5 701.5"/>
<path class="m" d="M871.5 694.5L872.5 694.5Q874.5 694.5 874.5 695.5L874.5 700.5Q874.5 701.5 872.5 701.5L871.5 701.5"/>
<path class="m" d="M876.5 705.5L876.5 704.5Q876.5 702.5 877.5 702.5L882.5 702.5Q883.5 702.5 883.5 704.5L883.5 705.5"/>
<path class="d" d="M872.5 705.5L887.5 705.5L887.5 712.5L872.5 712.5Z"/>
<path class="m" d="M876.5 705.5L876.5 712.5"/>
<path class="m" d="M883.5 705.5L883.5 712.5"/>
<path class="d" d="M872.5 712.5L888.5 712.5L888.5 714.5L872.5 714.5Z"/>
<path class="d" d="M870.5 714.5L889.5 714.5L891.5 715.5L868.5 715.5Z"/>
<path class="m" d="M876.5 715.5L876.5 722.5"/>
<path class="m" d="M883.5 715.5L883.5 722.5"/>
<path class="d" d="M868.5 718.5L897.5 718.5L897.5 748.5L894.5 748.5Q891.5 748.5 891.5 744.5L891.5 724.5Q891.5 722.5 889.5 722.5L870.5 722.5Q868.5 722.5 867.5 720.5Q866.5 718.5 868.5 718.5Z"/>
<path class="d" d="M872.5 722.5L887.5 722.5L887.5 728.5L872.5 728.5Z"/>
<path class="m" d="M876.5 722.5L876.5 728.5"/>
<path class="m" d="M883.5 722.5L883.5 728.5"/>
<path class="d" d="M868.5 732.5L886.5 732.5L886.5 738.5L868.5 738.5Z"/>
<path class="hd" d="M868.5 733.7L869.01 732.5M868.76 738.5L871.33 732.5M871.07 738.5L873.64 732.5M873.39 738.5L875.96 732.5M875.7 738.5L878.27 732.5M878.01 738.5L880.59 732.5M880.33 738.5L882.9 732.5M882.64 738.5L885.21 732.5M884.96 738.5L886.5 734.9"/>
<path class="d" d="M886.5 729.5L891.5 729.5L891.5 741.5L886.5 741.5Z"/>
<path class="m" d="M886.5 732.5L891.5 732.5"/>
<path class="m" d="M886.5 738.5L891.5 738.5"/>
<path class="m" d="M892.5 732.5L897.5 732.5L897.5 738.5L892.5 738.5Z"/>
<path class="hd" d="M892.5 734.63L893.41 732.5M892.81 738.5L895.39 732.5M894.79 738.5L897.36 732.5M896.76 738.5L897.5 736.77"/>
<path class="m" d="M897.5 671.5L901.5 671.5L901.5 754.5L897.5 754.5Z"/>
<path class="d" d="M895.5 688.5L897.5 688.5L897.5 707.5L895.5 707.5Z"/>
<path class="d" d="M895.5 691.5L892.5 691.5L891.5 692.5L891.5 704.5L892.5 704.5L895.5 704.5"/>
<path class="m" d="M891.5 698.5L895.5 698.5"/>
<path class="m" d="M901.5 686.5L908.5 686.5L908.5 709.5L901.5 709.5Z"/>
<path class="l" d="M908.5 686.5L954.5 686.5L954.5 709.5L908.5 709.5Z"/>
<path class="m" d="M908.5 691.5L944.5 691.5Q946.5 691.5 946.5 693.5L946.5 702.5Q946.5 704.5 944.5 704.5L908.5 704.5Z"/>
<path class="d" d="M909.5 693.5L927.5 693.5L927.5 702.5L909.5 702.5Z"/>
<path class="m" d="M901.5 694.5L909.5 694.5"/>
<path class="m" d="M901.5 701.5L909.5 701.5"/>
<path class="l" d="M927.5 693.5L946.5 693.5"/>
<path class="l" d="M927.5 702.5L946.5 702.5"/>
<circle class="d" cx="938.5" cy="698.5" r="4.3"/>
<circle class="hf" cx="938.5" cy="698.5" r="2.9"/>
<path class="cl" d="M772.2 698.5L970 698.5"/>
<path class="l" d="M772.5 100.5L772.5 811"/>
<path class="l" d="M772.2 100.5L791 100.5"/>
<path class="l" d="M772.2 115.5L791 115.5"/>
<path class="l" d="M835.3 192.5L901.5 192.5"/>
<path class="l" d="M857.5 192.4L857.5 212"/>
<path class="l" d="M891.5 192.4L891.5 212"/>
<path class="l" d="M857.5 320.5L901.5 320.5"/>
<path class="l" d="M857.5 302.5L857.5 321"/>
<path class="l" d="M866.5 302.5L866.5 321"/>
<path class="l" d="M896.5 304L896.5 321"/>
<path class="l" d="M835.3 645.5L901.5 645.5"/>
<path class="l" d="M857.5 645.5L857.5 664"/>
<path class="l" d="M891.5 645.5L891.5 664"/>
<path class="l" d="M857.5 771.5L897 771.5"/>
<path class="l" d="M857.5 753.75L857.5 771.25"/>
<path class="l" d="M866.5 753.75L866.5 771.25"/>
<path class="l" d="M896.5 753.75L896.5 771.25"/>
<path class="l" d="M1029 203.5L925 203.5L900 227.5"/>
<path class="l" d="M574 361.5L761 361.5L829 419.5"/>
<path class="l" d="M1098.75 526.5L992 526.5L951.25 484.5"/>
<path class="l" d="M622 624.5L795 624.5L847.5 685"/>
<path class="l" d="M656 660.5L807.5 660.5L822.5 678.75"/>
<path class="l" d="M1116 677.5L866 677.5L860 685"/>
<path class="l" d="M1103.75 744.5L976.25 744.5L895 720"/>
<path class="l" d="M1030 778.5L933.75 778.5L899.5 742.5"/>
<path class="l" d="M646.25 806.5L761.25 806.5L840 702.5"/>
<path class="l" d="M761.25 806.25L866.25 721.25"/>
<path class="tk" d="M1131 125.5L1138.6 125.5L1134.8 132Z"/>
<g class="t" transform="translate(807.7,53.5)" aria-label="(15)"><text transform="scale(0.7862,1)" font-size="16.96"><tspan x="0">(</tspan><tspan x="10.18">1</tspan><tspan x="20.35">5</tspan><tspan x="30.53">)</tspan></text></g>
<g class="t" transform="translate(820,71)" aria-label="18"><text transform="scale(0.7862,1)" font-size="16.96"><tspan x="0">1</tspan><tspan x="10.18">8</tspan></text></g>
<g class="t" transform="translate(851.3,71)" aria-label="88.5"><text transform="scale(0.7862,1)" font-size="16.96"><tspan x="0">8</tspan><tspan x="10.18">8</tspan><tspan x="16.89">.</tspan><tspan x="30.53">5</tspan></text></g>
<g class="t" transform="translate(926.7,69)" aria-label="100"><text transform="scale(0.7862,1)" font-size="16.96"><tspan x="0">1</tspan><tspan x="10.54" class="z">0</tspan><tspan x="20.72" class="z">0</tspan></text></g>
<g class="t" transform="translate(768,116) rotate(-90)" aria-label="20"><text transform="scale(0.7862,1)" font-size="16.96"><tspan x="0">2</tspan><tspan x="10.54" class="z">0</tspan></text></g>
<g class="t" transform="translate(768.4,193.5) rotate(-90)" aria-label="175"><text transform="scale(0.7862,1)" font-size="16.96"><tspan x="0">1</tspan><tspan x="10.18">7</tspan><tspan x="20.35">5</tspan></text></g>
<g class="t" transform="translate(768.2,484.7) rotate(-90)" aria-label="600"><text transform="scale(0.7862,1)" font-size="16.96"><tspan x="0">6</tspan><tspan x="10.54" class="z">0</tspan><tspan x="20.72" class="z">0</tspan></text></g>
<g class="t" transform="translate(765,795) rotate(-90)" aria-label="＠600"><text class="ja" x="0.48">＠</text><text transform="scale(0.7862,1)" font-size="16.96"><tspan x="20.35">6</tspan><tspan x="30.89" class="z">0</tspan><tspan x="41.07" class="z">0</tspan></text></g>
<g class="t" transform="translate(838,188.5)" aria-label="30"><text transform="scale(0.7862,1)" font-size="16.96"><tspan x="0">3</tspan><tspan x="10.54" class="z">0</tspan></text></g>
<g class="t" transform="translate(866,188.5)" aria-label="45"><text transform="scale(0.7862,1)" font-size="16.96"><tspan x="0">4</tspan><tspan x="10.18">5</tspan></text></g>
<g class="t" transform="translate(893.7,188.5)" aria-label="13.5"><text transform="scale(0.7862,1)" font-size="16.96"><tspan x="0">1</tspan><tspan x="10.18">3</tspan><tspan x="16.89">.</tspan><tspan x="30.53">5</tspan></text></g>
<g class="t" transform="translate(937.7,198.1)" aria-label="MP金具（ALC工事）"><text transform="scale(0.7862,1)" font-size="11.93"><tspan x="0">M</tspan><tspan x="7.16">P</tspan></text><text class="j" x="11.59 22.84 34.09">金具（</text><text transform="scale(0.7862,1)" font-size="11.93"><tspan x="57.24">A</tspan><tspan x="64.4">L</tspan><tspan x="71.55">C</tspan></text><text class="j" x="62.21 73.46 84.71">工事）</text></g>
<g class="t" transform="translate(840.5,299.5)" aria-label="12.5"><text transform="scale(0.7862,1)" font-size="16.96"><tspan x="0">1</tspan><tspan x="10.18">2</tspan><tspan x="16.89">.</tspan><tspan x="30.53">5</tspan></text></g>
<g class="t" transform="translate(872.9,316.5)" aria-label="40"><text transform="scale(0.7862,1)" font-size="16.96"><tspan x="0">4</tspan><tspan x="10.54" class="z">0</tspan></text></g>
<g class="t" transform="translate(904,316.5)" aria-label="6"><text transform="scale(0.7862,1)" font-size="16.96"><tspan x="0">6</tspan></text></g>
<g class="t" transform="translate(580,341.1)" aria-label="水蒸気式高温熱処理"><text class="j" x="0.34 11.59 22.84 34.09 45.34 56.59 67.84 79.09 90.34">水蒸気式高温熱処理</text></g>
<g class="t" transform="translate(580,354.7)" aria-label="羽目板 18(15)x105 ｺｼｲｽｰﾊﾟｰｻｰﾓ杉"><text class="j" x="0.34 11.59 22.84">羽目板</text><text transform="scale(0.7862,1)" font-size="11.93"><tspan x="50.09">1</tspan><tspan x="57.24">8</tspan><tspan x="64.4">(</tspan><tspan x="71.55">1</tspan><tspan x="78.71">5</tspan><tspan x="85.86">)</tspan><tspan x="93.02">x</tspan><tspan x="100.17">1</tspan><tspan x="107.58" class="z">0</tspan><tspan x="114.48">5</tspan></text><text class="j" x="101.42 107.04 112.67 118.29 123.92 129.54 135.17 140.79 146.42 152.04 157.67 163.46">ｺｼｲｽｰﾊﾟｰｻｰﾓ杉</text></g>
<g class="t" transform="translate(998.1,522.2)" aria-label="ﾃﾞｨｱﾙｳｫｰﾙ100mmALC"><text class="j" x="0.17 5.79 11.42 17.04 22.67 28.29 33.92 39.54 45.17">ﾃﾞｨｱﾙｳｫｰﾙ</text><text transform="scale(0.7862,1)" font-size="11.93"><tspan x="64.4">1</tspan><tspan x="71.81" class="z">0</tspan><tspan x="78.96" class="z">0</tspan><tspan x="85.86">m</tspan><tspan x="93.02">m</tspan><tspan x="100.17">A</tspan><tspan x="107.33">L</tspan><tspan x="114.48">C</tspan></text></g>
<g class="t" transform="translate(998.3,540.4)" aria-label="旭化成建材"><text class="j" x="0.34 11.59 22.84 34.09 45.34">旭化成建材</text></g>
<g class="t" transform="translate(622.9,604.2)" aria-label="30x77 ｺｼｲｽｰﾊﾟｰｻｰﾓひのき"><text transform="scale(0.7862,1)" font-size="11.93"><tspan x="0">3</tspan><tspan x="7.41" class="z">0</tspan><tspan x="14.31">x</tspan><tspan x="21.47">7</tspan><tspan x="28.62">7</tspan></text><text class="j" x="33.92 39.54 45.17 50.79 56.42 62.04 67.67 73.29 78.92 84.54 90.17 95.96 107.21 118.46">ｺｼｲｽｰﾊﾟｰｻｰﾓひのき</text></g>
<g class="t" transform="translate(623.2,618.7)" aria-label="（ボルト座堀有）"><text class="j" x="0.34 11.59 22.84 34.09 45.34 56.59 67.84 79.09">（ボルト座堀有）</text></g>
<g class="t" transform="translate(658.7,641.7)" aria-label="ｺｰｽﾚｯﾄﾞ(茶ﾌﾞﾛﾝｽﾞ)"><text class="j" x="0.17 5.79 11.42 17.04 22.67 28.29 33.92">ｺｰｽﾚｯﾄﾞ</text><text transform="scale(0.7862,1)" font-size="11.93"><tspan x="50.09">(</tspan></text><text class="j" x="45.34 56.42 62.04 67.67 73.29 78.92 84.54">茶ﾌﾞﾛﾝｽﾞ</text><text transform="scale(0.7862,1)" font-size="11.93"><tspan x="114.48">)</tspan></text></g>
<g class="t" transform="translate(658.6,654.8)" aria-label="4.2×45(41) (SUS410)"><text transform="scale(0.7862,1)" font-size="11.93"><tspan x="0">4</tspan><tspan x="4.72">.</tspan><tspan x="14.31">2</tspan></text><text class="j" x="22.84" text-anchor="middle">×</text><text transform="scale(0.7862,1)" font-size="11.93"><tspan x="35.78">4</tspan><tspan x="42.93">5</tspan><tspan x="50.09">(</tspan><tspan x="57.24">4</tspan><tspan x="64.4">1</tspan><tspan x="71.55">)</tspan><tspan x="85.86">(</tspan><tspan x="93.02">S</tspan><tspan x="100.17">U</tspan><tspan x="107.33">S</tspan><tspan x="114.48">4</tspan><tspan x="121.64">1</tspan><tspan x="129.05" class="z">0</tspan><tspan x="135.95">)</tspan></text></g>
<g class="t" transform="translate(838,641.2)" aria-label="30"><text transform="scale(0.7862,1)" font-size="16.96"><tspan x="0">3</tspan><tspan x="10.54" class="z">0</tspan></text></g>
<g class="t" transform="translate(866.3,641.2)" aria-label="45"><text transform="scale(0.7862,1)" font-size="16.96"><tspan x="0">4</tspan><tspan x="10.18">5</tspan></text></g>
<g class="t" transform="translate(894.5,641.2)" aria-label="13.5"><text transform="scale(0.7862,1)" font-size="16.96"><tspan x="0">1</tspan><tspan x="10.18">3</tspan><tspan x="16.89">.</tspan><tspan x="30.53">5</tspan></text></g>
<g class="t" transform="translate(906.7,661.7)" aria-label="通しLｱﾝｸﾞﾙ 45ｘ45 t4 L1190（目地10mm）"><text class="j" x="0.34 11.59">通し</text><text transform="scale(0.7862,1)" font-size="11.93"><tspan x="28.62">L</tspan></text><text class="j" x="28.29 33.92 39.54 45.17 50.79">ｱﾝｸﾞﾙ</text><text transform="scale(0.7862,1)" font-size="11.93"><tspan x="78.71">4</tspan><tspan x="85.86">5</tspan><tspan x="96.59">x</tspan><tspan x="107.33">4</tspan><tspan x="114.48">5</tspan><tspan x="128.79">t</tspan><tspan x="135.95">4</tspan><tspan x="150.26">L</tspan><tspan x="157.41">1</tspan><tspan x="164.57">1</tspan><tspan x="171.72">9</tspan><tspan x="179.13" class="z">0</tspan></text><text class="j" x="146.59 157.84 169.09">（目地</text><text transform="scale(0.7862,1)" font-size="11.93"><tspan x="228.96">1</tspan><tspan x="236.37" class="z">0</tspan><tspan x="243.27">m</tspan><tspan x="250.43">m</tspan></text><text class="j" x="202.84">）</text></g>
<g class="t" transform="translate(906.7,672.3)" aria-label="溶融亜鉛ﾒｯｷ処理"><text class="j" x="0.34 11.59 22.84 34.09 45.17 50.79 56.42 62.21 73.46">溶融亜鉛ﾒｯｷ処理</text></g>
<g class="t" transform="translate(985.7,728)" aria-label="受けLｱﾝｸﾞﾙ40ｘ40 t6"><text class="j" x="0.34 11.59">受け</text><text transform="scale(0.7862,1)" font-size="11.93"><tspan x="28.62">L</tspan></text><text class="j" x="28.29 33.92 39.54 45.17 50.79">ｱﾝｸﾞﾙ</text><text transform="scale(0.7862,1)" font-size="11.93"><tspan x="71.55">4</tspan><tspan x="78.96" class="z">0</tspan><tspan x="89.44">x</tspan><tspan x="100.17">4</tspan><tspan x="107.58" class="z">0</tspan><tspan x="121.64">t</tspan><tspan x="128.79">6</tspan></text></g>
<g class="t" transform="translate(985.7,738.7)" aria-label="溶融亜鉛ﾒｯｷ処理"><text class="j" x="0.34 11.59 22.84 34.09 45.17 50.79 56.42 62.21 73.46">溶融亜鉛ﾒｯｷ処理</text></g>
<g class="t" transform="translate(940.5,774.7)" aria-label="MP金具（ALC工事）"><text transform="scale(0.7862,1)" font-size="11.93"><tspan x="0">M</tspan><tspan x="7.16">P</tspan></text><text class="j" x="11.59 22.84 34.09">金具（</text><text transform="scale(0.7862,1)" font-size="11.93"><tspan x="57.24">A</tspan><tspan x="64.4">L</tspan><tspan x="71.55">C</tspan></text><text class="j" x="62.21 73.46 84.71">工事）</text></g>
<g class="t" transform="translate(873.4,767.5)" aria-label="40"><text transform="scale(0.7862,1)" font-size="16.96"><tspan x="0">4</tspan><tspan x="10.54" class="z">0</tspan></text></g>
<g class="t" transform="translate(846.3,787)" aria-label="12.5"><text transform="scale(0.7862,1)" font-size="16.96"><tspan x="0">1</tspan><tspan x="10.18">2</tspan><tspan x="16.89">.</tspan><tspan x="30.53">5</tspan></text></g>
<g class="t" transform="translate(652.5,777.2)" aria-label="六角ﾎﾞﾙﾄM10-28"><text class="j" x="0.34 11.59 22.67 28.29 33.92 39.54">六角ﾎﾞﾙﾄ</text><text transform="scale(0.7862,1)" font-size="11.93"><tspan x="57.24">M</tspan><tspan x="64.4">1</tspan><tspan x="71.81" class="z">0</tspan><tspan x="78.71">-</tspan><tspan x="85.86">2</tspan><tspan x="93.02">8</tspan></text></g>
<g class="t" transform="translate(652.5,788.2)" aria-label="ﾊﾞﾈ+ﾜｯｼｬｰ2"><text class="j" x="0.17 5.79 11.42">ﾊﾞﾈ</text><text transform="scale(0.7862,1)" font-size="11.93"><tspan x="21.47">+</tspan></text><text class="j" x="22.67 28.29 33.92 39.54 45.17">ﾜｯｼｬｰ</text><text transform="scale(0.7862,1)" font-size="11.93"><tspan x="64.4">2</tspan></text></g>
<g class="t" transform="translate(652.5,800.4)" aria-label="溶融亜鉛ﾒｯｷ処理"><text class="j" x="0.34 11.59 22.84 34.09 45.17 50.79 56.42 62.21 73.46">溶融亜鉛ﾒｯｷ処理</text></g>
<g class="t ti" transform="translate(787.4,849)" aria-label="軒先部断面詳細図 １：５"><text class="jt" x="0.45 15.45 30.45 45.45 60.45 75.45 90.45 105.45 127.95 142.95 157.95">軒先部断面詳細図１：５</text></g>
<g class="t" transform="translate(843,866)" aria-label="羽目板"><text class="j" x="0.34 11.59 22.84">羽目板</text></g>
<g class="t" transform="translate(1140.2,132.3)" aria-label="RSL"><text transform="scale(0.7862,1)" font-size="11.93"><tspan x="0">R</tspan><tspan x="7.16">S</tspan><tspan x="14.31">L</tspan></text></g>
<circle class="k" cx="259.6" cy="140" r="1.5"/>
<circle class="k" cx="273.3" cy="140" r="1.5"/>
<circle class="k" cx="339.6" cy="140" r="1.5"/>
<circle class="k" cx="414.6" cy="140" r="1.5"/>
<circle class="k" cx="273.3" cy="261.5" r="1.5"/>
<circle class="k" cx="295.6" cy="261.5" r="1.5"/>
<circle class="k" cx="329.3" cy="261.5" r="1.5"/>
<circle class="k" cx="339.6" cy="261.5" r="1.5"/>
<circle class="k" cx="295.75" cy="424.5" r="1.5"/>
<circle class="k" cx="305.2" cy="424.5" r="1.5"/>
<circle class="k" cx="335.5" cy="424.5" r="1.5"/>
<circle class="k" cx="339.6" cy="424.5" r="1.5"/>
<circle class="k" cx="60" cy="332.4" r="1.5"/>
<circle class="k" cx="60" cy="464.4" r="1.5"/>
<circle class="k" cx="821.5" cy="75.5" r="1.5"/>
<circle class="k" cx="835.3" cy="75.5" r="1.5"/>
<circle class="k" cx="901.5" cy="75.5" r="1.5"/>
<circle class="k" cx="976.6" cy="75.5" r="1.5"/>
<circle class="k" cx="772.2" cy="100.5" r="1.5"/>
<circle class="k" cx="772.2" cy="115.5" r="1.5"/>
<circle class="k" cx="772.2" cy="247.5" r="1.5"/>
<circle class="k" cx="772.2" cy="698" r="1.5"/>
<circle class="k" cx="835.3" cy="192.4" r="1.5"/>
<circle class="k" cx="857.6" cy="192.4" r="1.5"/>
<circle class="k" cx="891.3" cy="192.4" r="1.5"/>
<circle class="k" cx="901.5" cy="192.4" r="1.5"/>
<circle class="k" cx="857.5" cy="321" r="1.5"/>
<circle class="k" cx="866.6" cy="321" r="1.5"/>
<circle class="k" cx="896.8" cy="321" r="1.5"/>
<circle class="k" cx="901.5" cy="321" r="1.5"/>
<circle class="k" cx="835.3" cy="645.5" r="1.5"/>
<circle class="k" cx="857.6" cy="645.5" r="1.5"/>
<circle class="k" cx="891.3" cy="645.5" r="1.5"/>
<circle class="k" cx="901.5" cy="645.5" r="1.5"/>
<circle class="k" cx="857.5" cy="771.25" r="1.5"/>
<circle class="k" cx="867" cy="771.25" r="1.5"/>
<circle class="k" cx="897" cy="771.25" r="1.5"/>
</svg>
</body></html>
